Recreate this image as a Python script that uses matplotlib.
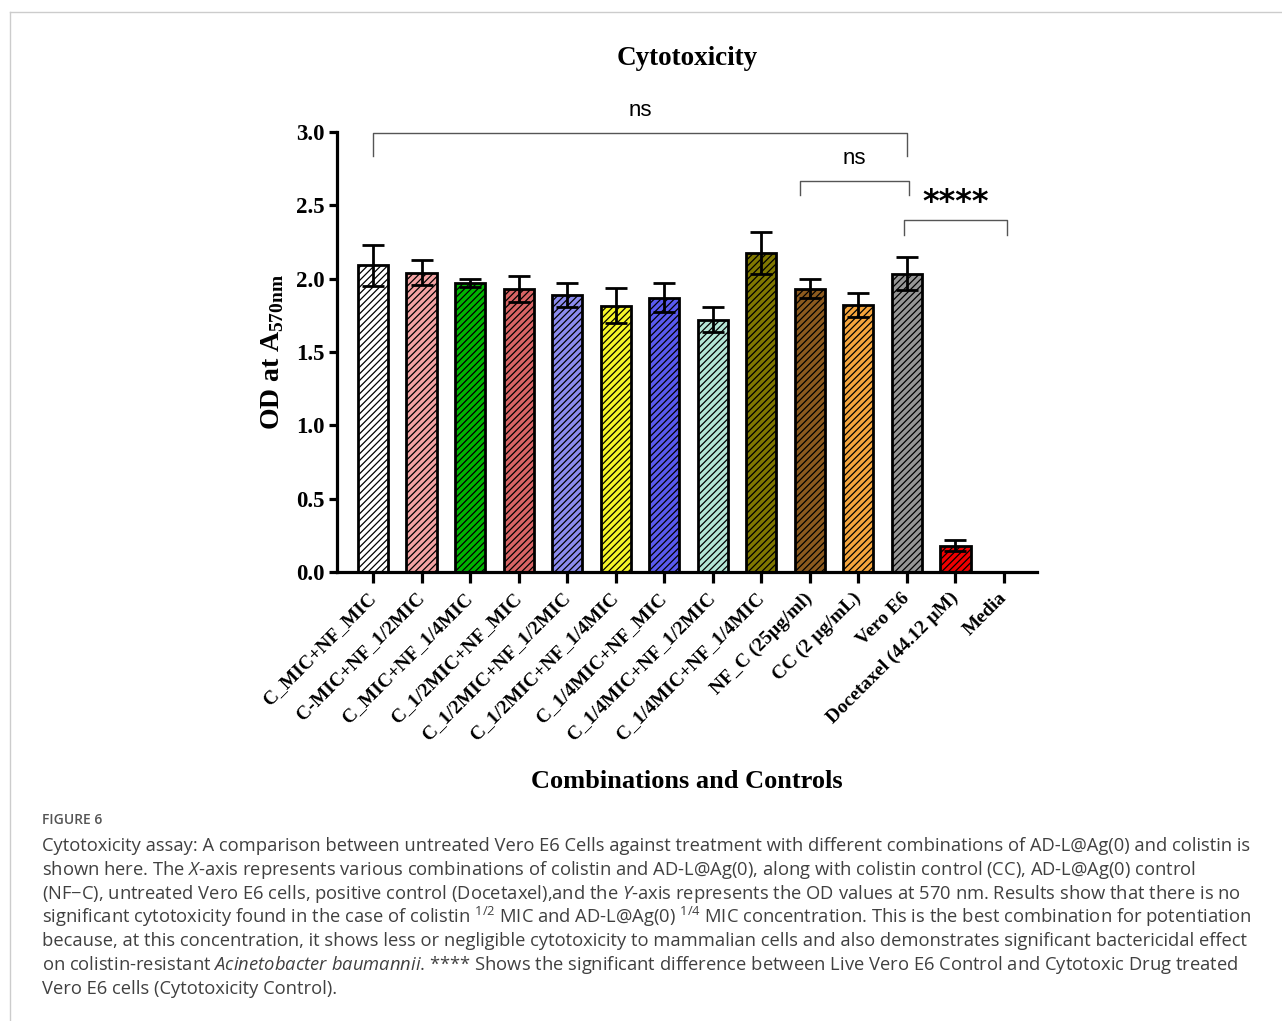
import matplotlib
matplotlib.use('Agg')
import matplotlib.pyplot as plt
from matplotlib.lines import Line2D
import numpy as np

plt.rcParams['mathtext.fontset'] = 'custom'
plt.rcParams['mathtext.it'] = 'Open Sans:italic'
plt.rcParams['mathtext.rm'] = 'Open Sans'
plt.rcParams['hatch.linewidth'] = 0.9

groups = ['C_MIC+NF_MIC', 'C-MIC+NF_1/2MIC', 'C_MIC+NF_1/4MIC', 'C_1/2MIC+NF_MIC',
          'C_1/2MIC+NF_1/2MIC', 'C_1/2MIC+NF_1/4MIC', 'C_1/4MIC+NF_MIC',
          'C_1/4MIC+NF_1/2MIC', 'C_1/4MIC+NF_1/4MIC', 'NF_C (25µg/ml)',
          'CC (2 µg/mL)', 'Vero E6', 'Docetaxel (44.12 µM)', 'Media']
od_mean = [2.09, 2.04, 1.97, 1.93, 1.89, 1.815, 1.87, 1.72, 2.175, 1.93, 1.82, 2.035, 0.18, 0.0]
od_err = [0.14, 0.085, 0.03, 0.09, 0.08, 0.12, 0.10, 0.085, 0.145, 0.065, 0.08, 0.11, 0.04, 0.0]
colors = ['#ffffff', '#f4a3a3', '#00b400', '#d86464', '#8c8cf0', '#f5f528', '#5a5af0',
          '#b4e6d6', '#807800', '#8c5a1e', '#f5a53c', '#969696', '#f00000', '#ffffff']

# significance brackets: (start bar, end bar, top y, tick drop, label, label y)
brackets = [(0, 11, 2.99, 0.155, 'ns', 3.15),
            (8.8, 11.05, 2.665, 0.095, 'ns', 2.82),
            (10.95, 13.07, 2.40, 0.10, '****', 2.52)]

caption = [
    'Cytotoxicity assay: A comparison between untreated Vero E6 Cells against treatment with different combinations of AD-L@Ag(0) and colistin is',
    r'shown here. The $\mathit{X}$-axis represents various combinations of colistin and AD-L@Ag(0), along with colistin control (CC), AD-L@Ag(0) control',
    r'(NF−C), untreated Vero E6 cells, positive control (Docetaxel),and the $\mathit{Y}$-axis represents the OD values at 570 nm. Results show that there is no',
    r'significant cytotoxicity found in the case of colistin $^{\mathregular{1/2}}$ MIC and AD-L@Ag(0) $^{\mathregular{1/4}}$ MIC concentration. This is the best combination for potentiation',
    'because, at this concentration, it shows less or negligible cytotoxicity to mammalian cells and also demonstrates significant bactericidal effect',
    r'on colistin-resistant $\mathit{Acinetobacter\ baumannii}$. **** Shows the significant difference between Live Vero E6 Control and Cytotoxic Drug treated',
    'Vero E6 cells (Cytotoxicity Control).',
]

serif = 'Liberation Serif'

fig = plt.figure(figsize=(12.82, 10.21), dpi=100)
ax = fig.add_axes([0.2629, 0.4398, 0.546, 0.4309])

x = np.arange(len(groups))
ax.bar(x, od_mean, width=0.62, color=colors, edgecolor='black', linewidth=2.0,
       hatch='/////', zorder=2)
ax.errorbar(x[:-1], od_mean[:-1], yerr=od_err[:-1], fmt='none', ecolor='black',
            elinewidth=2.0, capsize=8, capthick=2.0, zorder=3)

ax.set_xlim(-0.74, 13.68)
ax.set_ylim(0, 3.0)
ax.set_yticks(np.arange(0, 3.01, 0.5))
ax.set_yticklabels([f'{v:.1f}' for v in np.arange(0, 3.01, 0.5)],
                   fontfamily=serif, fontweight='bold', fontsize=16.5)
ax.set_xticks(x)
ax.set_xticklabels(groups, rotation=45, ha='right', va='center', rotation_mode='anchor',
                   fontfamily=serif, fontweight='bold', fontsize=14)
for s in ['top', 'right']:
    ax.spines[s].set_visible(False)
for s in ['left', 'bottom']:
    ax.spines[s].set_linewidth(2.3)
ax.tick_params(axis='y', length=6, width=2.3, pad=3)
ax.tick_params(axis='x', length=8, width=2.3, pad=9)

ax.set_ylabel(r'OD at A$_{\mathregular{570nm}}$', fontfamily=serif, fontweight='bold',
              fontsize=20, labelpad=7)
ax.set_xlabel('Combinations and Controls', fontfamily=serif, fontweight='bold',
              fontsize=19, labelpad=19)
ax.set_title('Cytotoxicity', fontfamily=serif, fontweight='bold', fontsize=19.5, pad=48)

for x0, x1, ytop, drop, label, ylab in brackets:
    ax.plot([x0, x0, x1, x1], [ytop - drop, ytop, ytop, ytop - drop], color='#555555',
            lw=1.0, clip_on=False, zorder=4)
    if label == 'ns':
        ax.text((x0 + x1) / 2, ylab, label, ha='center', va='center',
                fontfamily='Liberation Sans', fontsize=16, clip_on=False)
    else:
        ax.text((x0 + x1) / 2, ylab, label, ha='center', va='center',
                fontfamily='DejaVu Sans', fontweight='bold', fontsize=23, clip_on=False)

# frame of the figure panel
fig.add_artist(Line2D([10 / 1282, 1], [1 - 12 / 1021] * 2, color='#cccccc', lw=1))
fig.add_artist(Line2D([10 / 1282] * 2, [0, 1 - 12 / 1021], color='#cccccc', lw=1))

fig.text(42 / 1282, 1 - 820 / 1021, 'FIGURE 6', fontfamily='Open Sans', fontsize=10,
         color='#555555', va='center', fontweight='semibold')
for i, line in enumerate(caption):
    fig.text(42 / 1282, 1 - (846 + i * 23.8) / 1021, line, fontfamily='Open Sans',
             fontsize=13.2, color='#404040', va='center')

fig.savefig('out.png', dpi=100)
